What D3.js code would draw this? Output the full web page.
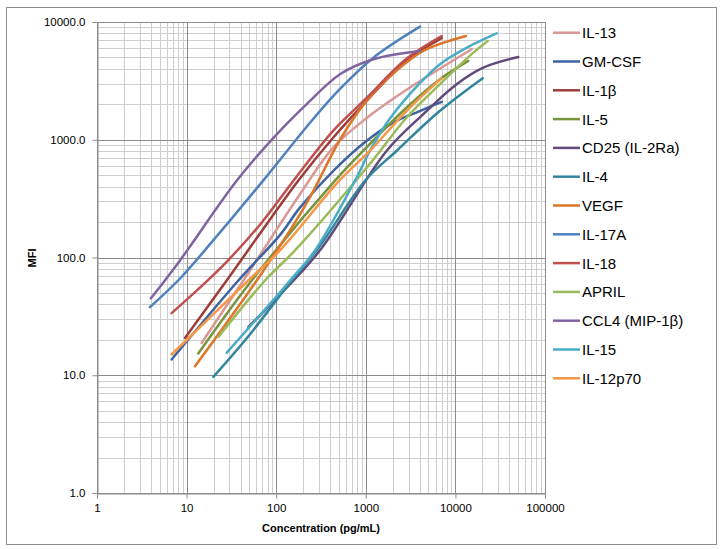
<!DOCTYPE html>
<html>
<head>
<meta charset="utf-8">
<script src="https://cdn.jsdelivr.net/npm/d3@7"></script>
<style>
  body { margin: 0; background: #fff; }
  text { font-family: "Liberation Sans", Arial, sans-serif; fill: #000; }
</style>
</head>
<body>
<script>
// standard curves, [concentration pg/mL, MFI]
const IL13    = [[14.7,18.8],[43,63.8],[184,345],[434,861],[1023,1530],[3113,2774],[15200,5870]];
const GMCSF   = [[6.8,13.6],[37.8,63.8],[110,155],[184,265],[434,545],[1023,981],[2028,1400],[4000,1750],[7030,2099]];
const IL1b    = [[9.6,20.7],[28,63.8],[176,449],[434,1046],[1023,2142],[2811,4670],[7030,7300]];
const IL5     = [[13.5,15.3],[53.3,63.8],[453,449],[938,807],[2860,1879],[6730,3267],[13930,4670]];
const CD25    = [[48.9,25.7],[100,44.7],[308,115],[1711,807],[4385,1651],[10330,2966],[20480,4100],[50350,5050]];
const IL4     = [[19.9,9.7],[46.9,20.6],[143,61.4],[308,126],[980,449],[2213,807],[6730,1761],[20180,3334]];
const VEGF    = [[12.4,11.9],[65.9,70],[219,290],[515,1000],[1023,2150],[1862,3450],[4385,5680],[13130,7610]];
const IL17A   = [[3.9,37.9],[8.4,66],[19.7,139],[75,470],[249,1449],[515,2700],[1213,4980],[4026,9125]];
const IL18    = [[6.8,33.7],[11.9,49.3],[28,92],[65.9,190],[184,530],[434,1197],[1023,2269],[2860,4900],[7030,7610]];
const APRIL   = [[22.6,21.1],[75,63.8],[162,115],[1114,626],[2860,1545],[6730,2966],[15850,5495],[22930,6902]];
const CCL4    = [[4.0,45],[8.4,94],[36.2,449],[100,1100],[219,2009],[515,3604],[1213,4830],[4026,5680]];
const IL15    = [[28,15.5],[143,63.8],[271,115],[757,449],[1114,807],[1783,1449],[2860,2281],[6730,4375],[15850,6470],[28900,8020]];
const IL12p70 = [[6.8,15],[48.9,63.8],[110,115],[506,449],[1114,807],[2860,1761],[7030,3334]];

const seriesNames = ['IL-13','GM-CSF','IL-1\u03b2','IL-5','CD25 (IL-2Ra)','IL-4','VEGF','IL-17A','IL-18','APRIL','CCL4 (MIP-1\u03b2)','IL-15','IL-12p70'];
const seriesData = [IL13, GMCSF, IL1b, IL5, CD25, IL4, VEGF, IL17A, IL18, APRIL, CCL4, IL15, IL12p70];
const seriesColors = ['#D99795','#3D64A0','#9E3C39','#77933C','#604A7B','#31859C','#DC772A','#4F81BD','#C0504D','#9BBB59','#8064A2','#4BACC6','#F79646'];

const xTicks = [1, 10, 100, 1000, 10000, 100000];
const yTicks = [1, 10, 100, 1000, 10000];

const width = 723, height = 549;
const plotLeft = 97, plotRight = 545, plotTop = 22, plotBottom = 493;

const svg = d3.select('body').append('svg')
    .attr('width', width)
    .attr('height', height);

// chart frame
svg.append('rect')
    .attr('x', 6.5).attr('y', 7.5)
    .attr('width', 710).attr('height', 537)
    .attr('fill', '#fff')
    .attr('stroke', '#8c8c8c');

const x = d3.scaleLog().domain([1, 100000]).range([plotLeft, plotRight]);
const y = d3.scaleLog().domain([1, 10000]).range([plotBottom, plotTop]);

// minor grid values 2..9 in each decade
const xMinor = [], yMinor = [];
xTicks.slice(0, -1).forEach(d => { for (let k = 2; k < 10; k++) xMinor.push(d * k); });
yTicks.slice(0, -1).forEach(d => { for (let k = 2; k < 10; k++) yMinor.push(d * k); });

const grid = svg.append('g');
grid.selectAll('.xm').data(xMinor).enter().append('line')
    .attr('x1', d => Math.round(x(d)) + 0.5).attr('x2', d => Math.round(x(d)) + 0.5)
    .attr('y1', plotTop).attr('y2', plotBottom)
    .attr('stroke', '#cfcfcf');
grid.selectAll('.ym').data(yMinor).enter().append('line')
    .attr('y1', d => Math.round(y(d)) + 0.5).attr('y2', d => Math.round(y(d)) + 0.5)
    .attr('x1', plotLeft).attr('x2', plotRight)
    .attr('stroke', '#cfcfcf');
grid.selectAll('.xM').data(xTicks).enter().append('line')
    .attr('x1', d => Math.round(x(d)) + 0.5).attr('x2', d => Math.round(x(d)) + 0.5)
    .attr('y1', plotTop).attr('y2', plotBottom)
    .attr('stroke', '#8c8c8c');
grid.selectAll('.yM').data(yTicks).enter().append('line')
    .attr('y1', d => Math.round(y(d)) + 0.5).attr('y2', d => Math.round(y(d)) + 0.5)
    .attr('x1', plotLeft).attr('x2', plotRight)
    .attr('stroke', '#8c8c8c');

// axes
const xAxis = d3.axisBottom(x).tickValues(xTicks).tickFormat(d3.format('d')).tickSize(5).tickPadding(5);
const yAxis = d3.axisLeft(y).tickValues(yTicks).tickFormat(d3.format('.1f')).tickSize(5).tickPadding(7);

const gx = svg.append('g').attr('transform', `translate(0,${plotBottom + 0.5})`).call(xAxis);
const gy = svg.append('g').attr('transform', `translate(${plotLeft + 0.5},0)`).call(yAxis);
[gx, gy].forEach(g => {
    g.select('.domain').attr('stroke', '#8c8c8c');
    g.selectAll('.tick line').attr('stroke', '#8c8c8c');
    g.selectAll('.tick text').style('font-size', '11.5px').attr('fill', '#000');
});

// axis titles
svg.append('text')
    .attr('x', (plotLeft + plotRight) / 2)
    .attr('y', 532)
    .attr('text-anchor', 'middle')
    .style('font-size', '11px')
    .style('font-weight', 'bold')
    .text('Concentration (pg/mL)');

svg.append('text')
    .attr('transform', 'rotate(-90)')
    .attr('x', -258)
    .attr('y', 36)
    .attr('text-anchor', 'middle')
    .style('font-size', '11px')
    .style('font-weight', 'bold')
    .text('MFI');

// curves
const line = d3.line()
    .x(d => x(d[0]))
    .y(d => y(d[1]))
    .curve(d3.curveCatmullRom.alpha(0.5));

svg.append('g').selectAll('path')
    .data(seriesData)
    .enter().append('path')
    .attr('d', d => line(d))
    .attr('fill', 'none')
    .attr('stroke', (d, i) => seriesColors[i])
    .attr('stroke-width', 2.5)
    .attr('stroke-linecap', 'round');

// legend
const legend = svg.append('g').selectAll('g')
    .data(seriesNames)
    .enter().append('g')
    .attr('transform', (d, i) => `translate(553,${32.7 + i * 28.8})`);

legend.append('line')
    .attr('x1', 0).attr('x2', 27)
    .attr('stroke', (d, i) => seriesColors[i])
    .attr('stroke-width', 2.5);

legend.append('text')
    .attr('x', 29)
    .attr('dy', '0.36em')
    .style('font-size', '15px')
    .text(d => d);
</script>
</body>
</html>
